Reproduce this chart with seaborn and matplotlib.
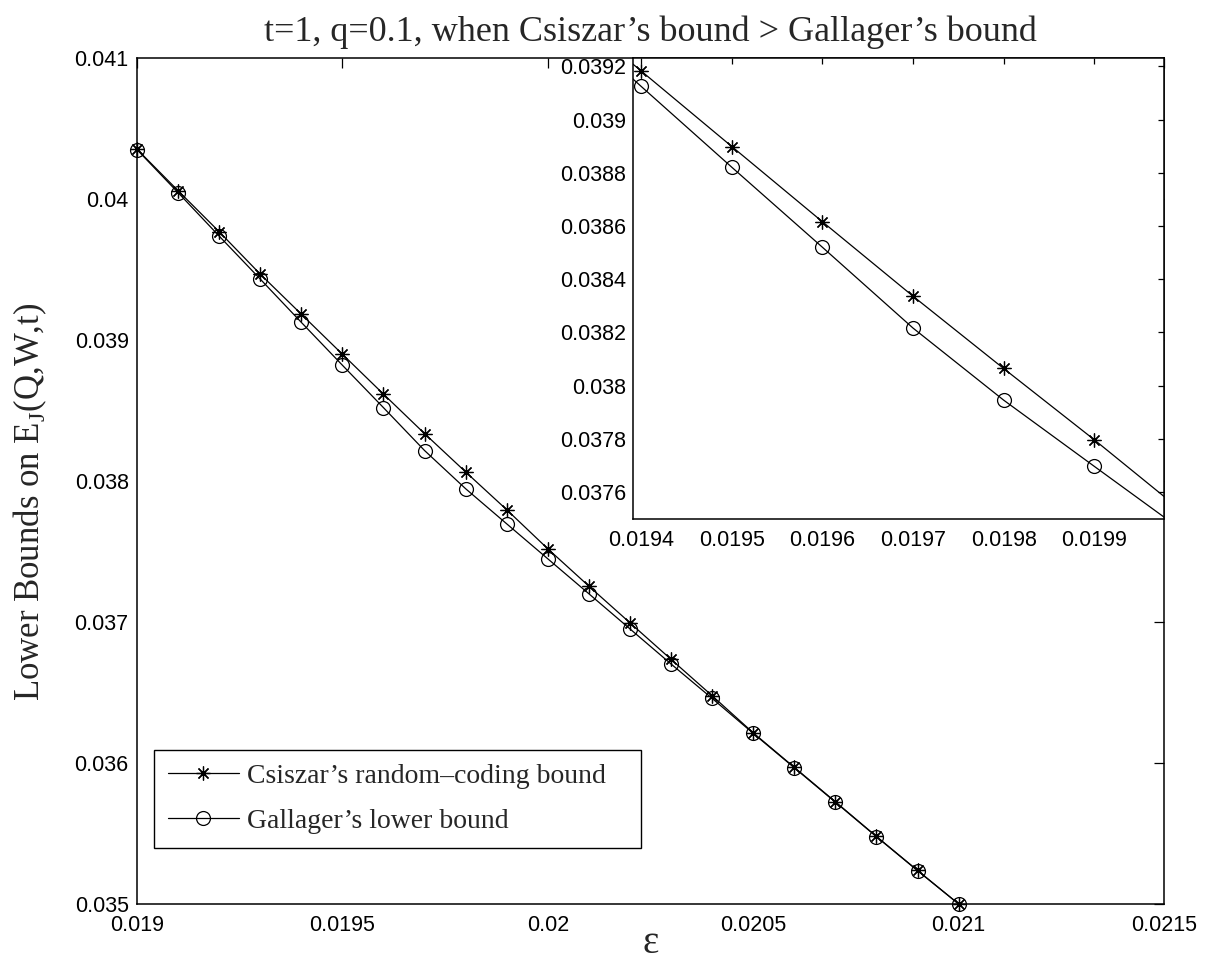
import matplotlib
matplotlib.use("Agg")
import matplotlib.pyplot as plt
import seaborn as sns
import pandas as pd

# epsilon grid and the two lower bounds
eps = [0.0190, 0.0191, 0.0192, 0.0193, 0.0194, 0.0195, 0.0196, 0.0197,
       0.0198, 0.0199, 0.0200, 0.0201, 0.0202, 0.0203, 0.0204, 0.0205,
       0.0206, 0.0207, 0.0208, 0.0209, 0.0210]
csiszar = [0.040353, 0.040059, 0.039768, 0.039467, 0.039183, 0.038899,
           0.038616, 0.038336, 0.038064, 0.037796, 0.037519, 0.037254,
           0.036994, 0.036735, 0.036477, 0.036214, 0.035969, 0.035725,
           0.035479, 0.035238, 0.035000]
gallager = [0.040350, 0.040045, 0.039737, 0.039432, 0.039125, 0.038821,
            0.038520, 0.038216, 0.037945, 0.037696, 0.037448, 0.037200,
            0.036951, 0.036702, 0.036458, 0.036210, 0.035966, 0.035722,
            0.035477, 0.035236, 0.035000]

labels = ["Csiszar\u2019s random\u2013coding bound", "Gallager\u2019s lower bound"]

main_xticks = [0.019, 0.0195, 0.02, 0.0205, 0.021, 0.0215]
main_xticklabels = ["0.019", "0.0195", "0.02", "0.0205", "0.021", "0.0215"]
main_yticks = [0.035, 0.036, 0.037, 0.038, 0.039, 0.040, 0.041]
main_yticklabels = ["0.035", "0.036", "0.037", "0.038", "0.039", "0.04", "0.041"]

inset_xticks = [0.0194, 0.0195, 0.0196, 0.0197, 0.0198, 0.0199]
inset_xticklabels = ["0.0194", "0.0195", "0.0196", "0.0197", "0.0198", "0.0199"]
inset_yticks = [0.0376, 0.0378, 0.0380, 0.0382, 0.0384, 0.0386, 0.0388, 0.0390, 0.0392]
inset_yticklabels = ["0.0376", "0.0378", "0.038", "0.0382", "0.0384",
                     "0.0386", "0.0388", "0.039", "0.0392"]

df = pd.DataFrame({"eps": eps, "csiszar": csiszar, "gallager": gallager})

sns.set_style("white")
plt.rcParams["font.family"] = ["Liberation Sans", "DejaVu Sans"]
plt.rcParams["mathtext.fontset"] = "custom"
plt.rcParams["mathtext.rm"] = "Liberation Serif"

SERIF = ["Liberation Serif", "DejaVu Serif"]
STAR = (8, 2, 0)

fig = plt.figure(figsize=(12.09, 9.63), dpi=100)
ax = fig.add_axes([0.1133, 0.0613, 0.8495, 0.8785])
axin = fig.add_axes([0.5236, 0.4611, 0.4392, 0.4787])

line_kw = dict(color="black", linewidth=0.9, markeredgecolor="black",
               markeredgewidth=0.9, markersize=10)


def draw_series(a, clip):
    sns.lineplot(data=df, x="eps", y="csiszar", ax=a, marker=STAR,
                 label=labels[0], clip_on=clip, **line_kw)
    sns.lineplot(data=df, x="eps", y="gallager", ax=a, marker="o",
                 markerfacecolor="none", label=labels[1], clip_on=clip, **line_kw)


def style_axes(a, ticklen):
    for s in a.spines.values():
        s.set_visible(True)
        s.set_color("black")
        s.set_linewidth(1.1)
    a.tick_params(direction="in", length=ticklen, width=0.9, top=True,
                  right=True, labelsize=15.5, colors="black")
    a.set_xlabel("")
    a.set_ylabel("")


# main axes
draw_series(ax, False)
ax.set_xlim(0.019, 0.0215)
ax.set_ylim(0.035, 0.041)
ax.set_xticks(main_xticks)
ax.set_xticklabels(main_xticklabels)
ax.set_yticks(main_yticks)
ax.set_yticklabels(main_yticklabels)
style_axes(ax, 7)
ax.tick_params(axis="x", pad=8)
ax.tick_params(axis="y", pad=6)

ax.set_title("t=1, q=0.1, when Csiszar\u2019s bound > Gallager\u2019s bound",
             family=SERIF, fontsize=26, pad=12)
ax.set_xlabel("\u03b5", family=SERIF, fontsize=28, labelpad=-8)
ax.set_ylabel("Lower Bounds on E$_\\mathregular{J}$(Q,W,t)", family=SERIF,
              fontsize=25)
ax.yaxis.set_label_coords(-0.086, 0.475)

leg = ax.legend(loc="lower left", bbox_to_anchor=(0.0166, 0.0662, 0.474, 0.1147),
                mode="expand", borderaxespad=0, frameon=True, fancybox=False,
                framealpha=1, edgecolor="black",
                prop={"family": SERIF, "size": 20},
                handlelength=2.55, handletextpad=0.3, labelspacing=0.7,
                borderpad=0.5)
leg.get_frame().set_linewidth(1.0)

# zoomed inset
draw_series(axin, True)
axin.get_legend().remove()
axin.set_xlim(0.019391, 0.019977)
axin.set_ylim(0.037498, 0.039232)
axin.set_xticks(inset_xticks)
axin.set_xticklabels(inset_xticklabels)
axin.set_yticks(inset_yticks)
axin.set_yticklabels(inset_yticklabels)
style_axes(axin, 4)
axin.set_facecolor("white")
axin.tick_params(axis="x", pad=8)
axin.tick_params(axis="y", pad=5)

fig.savefig("out.png", dpi=100)
